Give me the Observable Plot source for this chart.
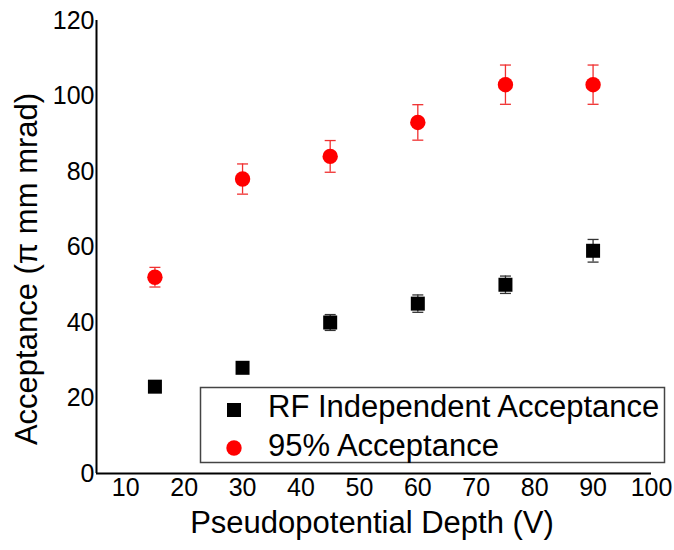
<!DOCTYPE html>
<html>
<head>
<meta charset="utf-8">
<script src="https://cdn.jsdelivr.net/npm/d3@7"></script>
<script src="https://cdn.jsdelivr.net/npm/@observablehq/plot@0.6"></script>
<style>
  html, body { margin: 0; padding: 0; background: #fff; }
  #wrap { position: relative; width: 674px; height: 550px; font-family: "Liberation Sans", Arial, sans-serif; }
  #legend { position: absolute; left: 0; top: 0; }
</style>
</head>
<body>
<div id="wrap"></div>
<script>
// ---- data ----
const depths = [15, 30, 45, 60, 75, 90];
const rfIndependent = [23, 28, 40, 45, 50, 59];
const rfIndependentErr = [1, 1, 2.1, 2.3, 2.3, 3];
const accept95 = [52, 78, 84, 93, 103, 103];
const accept95Err = [2.6, 4, 4.2, 4.7, 5.2, 5.2];
const xTicks = [10, 20, 30, 40, 50, 60, 70, 80, 90, 100];
const yTicks = [0, 20, 40, 60, 80, 100, 120];
const seriesNames = ["RF Independent Acceptance", "95% Acceptance"];
const xTitle = "Pseudopotential Depth (V)";
const yTitle = "Acceptance (π mm mrad)";

const black = depths.map((x, i) => ({x, y: rfIndependent[i], e: rfIndependentErr[i]}));
const red = depths.map((x, i) => ({x, y: accept95[i], e: accept95Err[i]}));

const cap = {draw(ctx) { ctx.moveTo(-5.5, 0); ctx.lineTo(5.5, 0); }};

const errMarks = (data, color) => [
  Plot.ruleX(data, {x: "x", y1: d => d.y - d.e, y2: d => d.y + d.e, stroke: color, strokeWidth: 1.3}),
  Plot.dot(data, {x: "x", y: d => d.y + d.e, symbol: cap, stroke: color, strokeWidth: 1.3, fill: "none"}),
  Plot.dot(data, {x: "x", y: d => d.y - d.e, symbol: cap, stroke: color, strokeWidth: 1.3, fill: "none"})
];

const chart = Plot.plot({
  width: 674,
  height: 550,
  marginLeft: 96,
  marginRight: 23,
  marginTop: 20,
  marginBottom: 77,
  style: {fontFamily: "'Liberation Sans', Arial, sans-serif", background: "#fff", color: "#000"},
  x: {domain: [5, 100]},
  y: {domain: [0, 120]},
  marks: [
    Plot.axisX({ticks: xTicks, tickSize: 0, tickPadding: 5, fontSize: 25, label: null, tickFormat: d => String(d)}),
    Plot.axisY({ticks: yTicks, tickSize: 0, tickPadding: 2, fontSize: 25, label: null, tickFormat: d => String(d)}),
    Plot.ruleX([5], {stroke: "#000", strokeWidth: 2}),
    Plot.ruleY([0], {stroke: "#000", strokeWidth: 2}),
    ...errMarks(red, "#f03030"),
    ...errMarks(black, "#333"),
    Plot.dot(red, {x: "x", y: "y", r: 7.7, fill: "#ff0000", stroke: "none"}),
    Plot.dot(black, {x: "x", y: "y", r: 7.9, symbol: "square", fill: "#000", stroke: "none"}),
    Plot.text([xTitle], {frameAnchor: "bottom", textAnchor: "middle", lineAnchor: "middle", dy: 50, dx: -2, fontSize: 31, fill: "#000"}),
    Plot.text([yTitle], {frameAnchor: "left", textAnchor: "middle", lineAnchor: "middle", rotate: -90, dx: -69, dy: 22, fontSize: 31, fill: "#000"})
  ]
});

const wrap = document.getElementById("wrap");
wrap.appendChild(chart);

// legend overlay
const lg = d3.select(wrap).append("svg")
  .attr("id", "legend")
  .attr("width", 674).attr("height", 550)
  .style("pointer-events", "none");
lg.append("rect")
  .attr("x", 200.5).attr("y", 387.5).attr("width", 464).attr("height", 75)
  .attr("fill", "#fff").attr("stroke", "#444").attr("stroke-width", 1.5);
lg.append("rect")
  .attr("x", 227).attr("y", 403).attr("width", 14).attr("height", 14).attr("fill", "#000");
lg.append("circle")
  .attr("cx", 234).attr("cy", 448).attr("r", 7.7).attr("fill", "#ff0000");
lg.append("text").attr("x", 268).attr("y", 417)
  .attr("font-size", 31).attr("font-family", "'Liberation Sans', Arial, sans-serif")
  .attr("fill", "#000").text(seriesNames[0]);
lg.append("text").attr("x", 268).attr("y", 456)
  .attr("font-size", 31).attr("font-family", "'Liberation Sans', Arial, sans-serif")
  .attr("fill", "#000").text(seriesNames[1]);
</script>
</body>
</html>
